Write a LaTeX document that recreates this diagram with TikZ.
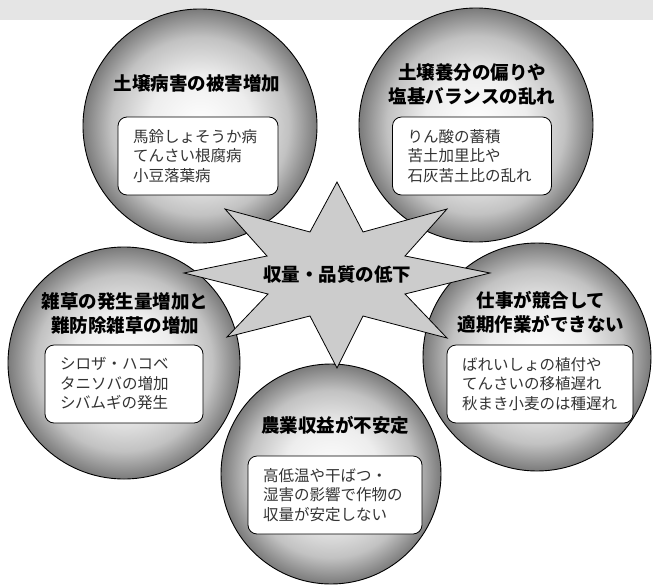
\documentclass[tikz,border=0pt]{standalone}
\usepackage{fontspec}
\newfontfamily\jpfont{Noto Sans CJK JP}

\pgfdeclareradialshading{orb}{\pgfpoint{0bp}{0bp}}{%
  color(0bp)=(white); color(11bp)=(black!7); color(19bp)=(black!24);
  color(25bp)=(black!52); color(50bp)=(black!52)}

\tikzset{
  orb/.style={circle, draw=black, line width=0.9pt, shade, shading=orb},
  headline/.style={font=\jpfont\bfseries\fontsize{18.5}{24}\selectfont, align=center},
  notebox/.style={draw=black, line width=0.8pt, fill=white, rounded corners=9pt,
    minimum height=78pt, inner xsep=15pt, align=left, text=black!80,
    font=\jpfont\fontsize{15.5}{19.5}\selectfont},
  burst/.style={draw=black, line width=0.8pt, fill=black!20, line join=miter}
}

\begin{document}
\begin{tikzpicture}[x=1pt,y=-1pt]
  \useasboundingbox (0,0) rectangle (653,584);
  \fill[black!10] (0,0) rectangle (653,20);

  % draw circles
  \node[orb, minimum size=234pt] (dis)  at (200,126) {};
  \node[orb, minimum size=234pt] (nut)  at (476,125) {};
  \node[orb, minimum size=232pt] (weed) at (124,363) {};
  \node[orb, minimum size=228pt] (work) at (537,357) {};
  \node[orb, minimum size=220pt] (inc)  at (331,474) {};

  % titles
  \node[headline] (distitle)  at (197,83)  {土壌病害の被害増加};
  \node[headline] (nuttitle)  at (472,84)  {土壌養分の偏りや\\塩基バランスの乱れ};
  \node[headline] (weedtitle) at (125,313) {雑草の発生量増加と\\難防除雑草の増加};
  \node[headline] (worktitle) at (541,312) {仕事が競合して\\適期作業ができない};
  \node[headline] (inctitle)  at (335,425) {農業収益が不安定};

  % notes
  \node[notebox, text width=130pt] (disnote)  at (198,156) {馬鈴しょそうか病\\てんさい根腐病\\小豆落葉病};
  \node[notebox, text width=129pt] (nutnote)  at (472,156) {りん酸の蓄積\\苦土加里比や\\石灰苦土比の乱れ};
  \node[notebox, text width=128pt] (weednote) at (124,384) {シロザ・ハコベ\\タニソバの増加\\シバムギの発生};
  \node[notebox, text width=156pt] (worknote) at (540,384) {ばれいしょの植付や\\てんさいの移植遅れ\\秋まき小麦のは種遅れ};
  \node[notebox, text width=144pt] (incnote)  at (335,495) {高低温や干ばつ・\\湿害の影響で作物の\\収量が安定しない};

  % burst in the middle
  \draw[burst] (337,182) -- (363,232) -- (447,209) -- (405,256) -- (490,273)
    -- (405,294) -- (447,338) -- (363,316) -- (337,368) -- (310,316)
    -- (227,337) -- (268,294) -- (184,273) -- (267,256) -- (225,209)
    -- (310,232) -- cycle;
  \node[headline] (core) at (337,275) {収量・品質の低下};
\end{tikzpicture}
\end{document}
